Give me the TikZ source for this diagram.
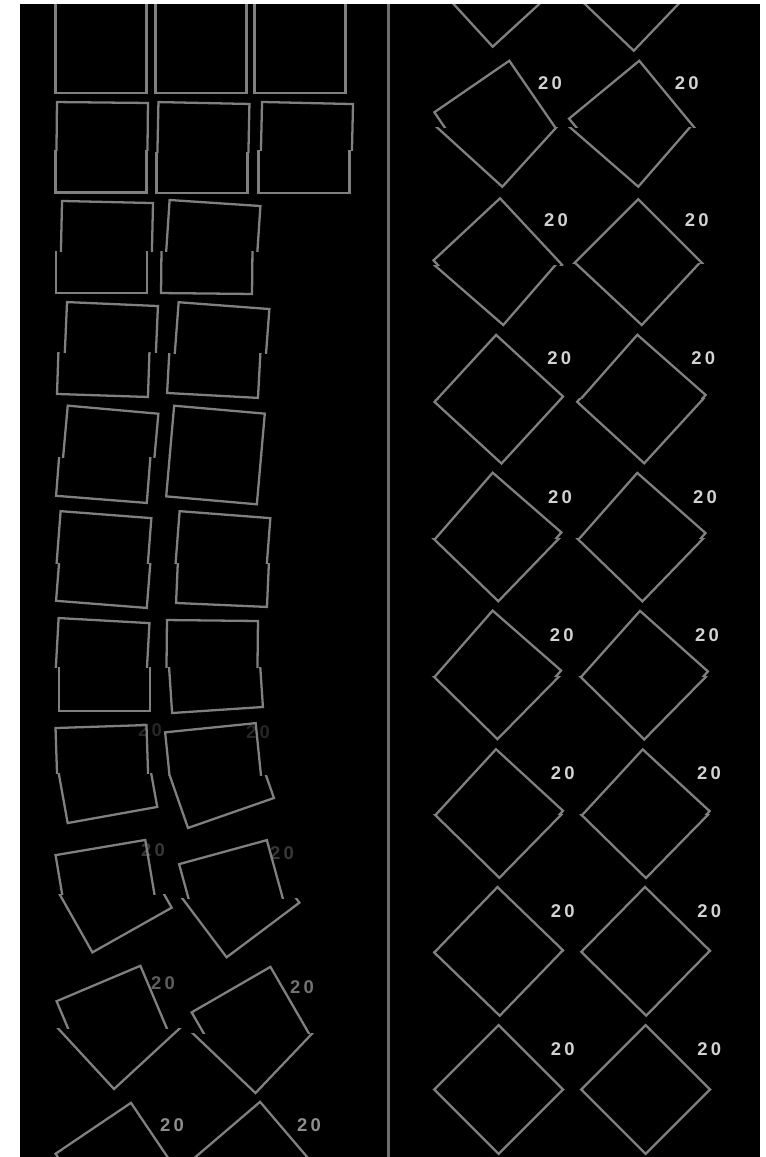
\documentclass[tikz,border=0pt]{standalone}
\usepackage{fontspec}
\newfontfamily\lblfont[LetterSpace=18]{Liberation Sans}
\definecolor{SpriteGray}{HTML}{808080}
\definecolor{RuleGray}{HTML}{6E6E6E}
\definecolor{LblFaint}{HTML}{262626}
\definecolor{LblDim}{HTML}{383838}
\definecolor{LblMid}{HTML}{5E5E5E}
\definecolor{LblMidB}{HTML}{727272}
\definecolor{LblSoft}{HTML}{8E8E8E}
\definecolor{LblBright}{HTML}{D2D2D2}

% torn square: top part (cx,cy,angle), bottom part (cx,cy,angle), tear line y
\newcommand{\tornsq}[7]{%
  \begin{scope}
    \clip (#1-80,#7-110) rectangle (#1+80,#7);
    \draw[sprite, shift={(#1,#2)}, rotate=#3] (-45.5,-45.5) rectangle (45.5,45.5);
  \end{scope}
  \begin{scope}
    \clip (#4-80,#7) rectangle (#4+80,#7+110);
    \draw[sprite, shift={(#4,#5)}, rotate=#6] (-45.5,-45.5) rectangle (45.5,45.5);
  \end{scope}}

\begin{document}
\begin{tikzpicture}[
  x={(0.02cm,0)}, y={(0,-0.02cm)},
  sprite/.style={draw=SpriteGray, line width=1.3pt, line join=miter},
  lbl/.style={font=\lblfont\bfseries\fontsize{10.5}{11}\selectfont, inner sep=0pt},
]
\useasboundingbox (0,0) rectangle (765,1157);
\fill[white] (0,0) rectangle (765,1157);
\fill[black] (20,4) rectangle (760,1157);

\begin{scope}
\clip (20,4) rectangle (760,1157);

% labels, left column
\node[lbl, text=LblFaint] (l8a) at (150,730) {20};
\node[lbl, text=LblFaint] (l8b) at (258,732) {20};
\node[lbl, text=LblDim] (l9a) at (153,850) {20};
\node[lbl, text=LblDim] (l9b) at (282,853) {20};
\node[lbl, text=LblMid] (l10a) at (163,983) {20};
\node[lbl, text=LblMidB] (l10b) at (302,987) {20};
\node[lbl, text=LblSoft] (l11a) at (172,1125) {20};
\node[lbl, text=LblSoft] (l11b) at (309,1125) {20};

% labels, right column
\node[lbl, text=LblBright] (r1a) at (550,82.7) {20};
\node[lbl, text=LblBright] (r1b) at (686.7,82.7) {20};
\node[lbl, text=LblBright] (r2a) at (556,220) {20};
\node[lbl, text=LblBright] (r2b) at (696.7,220) {20};
\node[lbl, text=LblBright] (r3a) at (559.3,358.3) {20};
\node[lbl, text=LblBright] (r3b) at (703.3,358) {20};
\node[lbl, text=LblBright] (r4a) at (560,496.7) {20};
\node[lbl, text=LblBright] (r4b) at (705,496.7) {20};
\node[lbl, text=LblBright] (r5a) at (561.7,635) {20};
\node[lbl, text=LblBright] (r5b) at (707,635) {20};
\node[lbl, text=LblBright] (r6a) at (562.7,772.7) {20};
\node[lbl, text=LblBright] (r6b) at (709,773) {20};
\node[lbl, text=LblBright] (r7a) at (562.7,911) {20};
\node[lbl, text=LblBright] (r7b) at (709.3,911) {20};
\node[lbl, text=LblBright] (r8a) at (562.7,1049) {20};
\node[lbl, text=LblBright] (r8b) at (709.3,1049) {20};

% left column
\tornsq{101}{47.8}{0}{101}{47.8}{0}{47.8}
\tornsq{201}{47.8}{0}{201}{47.8}{0}{47.8}
\tornsq{300}{47.8}{0}{300}{47.8}{0}{47.8}
\tornsq{102}{148}{-0.6}{101}{147}{0}{150}
\tornsq{203}{148.5}{-1.2}{202}{147.5}{0}{152}
\tornsq{306.5}{148.5}{-1.3}{304}{147.5}{0}{150}
\tornsq{106.5}{247.5}{-1.3}{101.5}{247.5}{0}{251}
\tornsq{212}{248.4}{-3.8}{207}{248}{-0.6}{251}
\tornsq{110.5}{349.5}{-2.5}{104}{350}{-1.9}{352}
\tornsq{220.6}{351}{-4.3}{215}{350}{-3.1}{353}
\tornsq{109}{455}{-5.1}{105}{454}{-4.5}{457}
\tornsq{215.5}{455}{-5}{215.5}{455}{-5}{455}
\tornsq{102.5}{560}{-4.4}{105}{559}{-4.5}{563}
\tornsq{221.5}{560}{-4.4}{223.5}{559.5}{-2.5}{563}
\tornsq{101.5}{666}{-3.2}{104.5}{665.5}{0}{667}
\tornsq{212}{666}{-0.6}{214.5}{664.6}{3.8}{667}
\tornsq{102.5}{772}{1.9}{104.4}{770.2}{10.2}{773}
\tornsq{215}{773}{5.8}{216}{770}{19.2}{775}
\tornsq{108}{892.4}{9.6}{109.7}{890.4}{29.4}{894}
\tornsq{235}{896}{15.3}{235.7}{893.6}{36.9}{898}
\tornsq{116.2}{1025.4}{22.9}{116.6}{1024.7}{42.7}{1028}
\tornsq{253.8}{1029}{30}{253.9}{1028.7}{46.4}{1033}
\tornsq{118.7}{1166}{34}{118.7}{1166}{34}{1166}
\tornsq{255}{1166}{40.5}{255}{1166}{40.5}{1166}

% right column
\tornsq{495.5}{-17.6}{42.5}{495.5}{-17.6}{42.5}{-17.6}
\tornsq{632.3}{-13.6}{46.3}{632.3}{-13.6}{46.3}{-13.6}
\tornsq{497.6}{124}{34.5}{499.3}{122.5}{47.7}{127}
\tornsq{633.1}{124.8}{39.5}{633.8}{122.5}{49}{127}
\tornsq{497.8}{262.6}{43}{498.8}{260.8}{49}{265}
\tornsq{638.3}{263.6}{45}{639.5}{260.7}{47}{263}
\tornsq{498.8}{399.2}{47.4}{498.8}{399.2}{47.4}{399}
\tornsq{641.4}{399}{48.6}{641.4}{399}{47.5}{398}
\tornsq{497.2}{536.9}{49}{497.2}{536.9}{46}{538}
\tornsq{641.3}{537.1}{48.6}{641.3}{537.1}{46}{538}
\tornsq{496.9}{674.8}{48.8}{496.9}{674.8}{45.5}{676}
\tornsq{643.7}{675.1}{48.3}{643.7}{675.1}{45.5}{676}
\tornsq{498.7}{813.5}{47.4}{498.7}{813.5}{45.6}{814}
\tornsq{645.3}{813.7}{47.3}{645.3}{813.7}{45.6}{814}
\tornsq{498.6}{951.4}{46}{498.6}{951.4}{46}{951}
\tornsq{645.6}{951.3}{45.5}{645.6}{951.3}{45.5}{951}
\tornsq{498.6}{1089.5}{45}{498.6}{1089.5}{45}{1089}
\tornsq{645.6}{1089.5}{45}{645.6}{1089.5}{45}{1089}

% divider
\draw[RuleGray, line width=1.7pt] (388.3,4) -- (388.3,1157);
\end{scope}
\end{tikzpicture}
\end{document}
